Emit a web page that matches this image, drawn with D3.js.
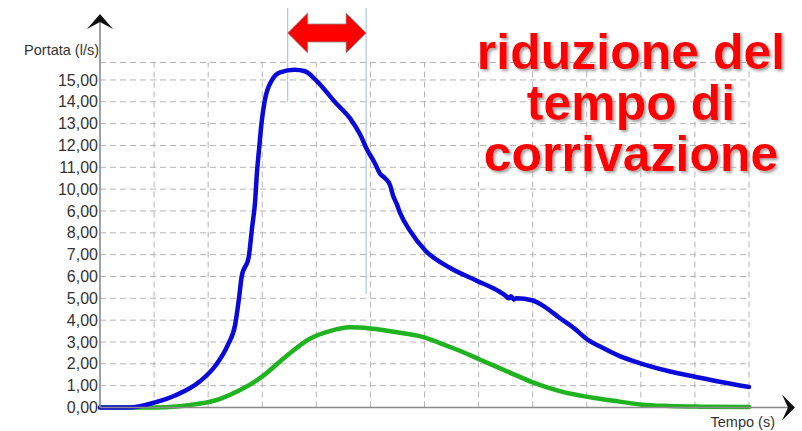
<!DOCTYPE html>
<html>
<head>
<meta charset="utf-8">
<script src="https://cdn.jsdelivr.net/npm/d3@7"></script>
<style>
  body { margin: 0; background: #fff; }
  svg { display: block; }
</style>
</head>
<body>
<div id="chart"></div>
<script>
// tempo in unita' di griglia, portata in l/s
const bluT = [0, 0.55, 1.00, 1.39, 1.85, 2.13, 2.37, 2.50, 2.57, 2.62, 2.75, 2.81, 2.87, 2.90, 2.94, 2.99, 3.05, 3.18, 3.33, 3.60, 3.79, 4.01, 4.34, 4.62, 4.81, 4.94, 5.08, 5.18, 5.27, 5.36, 5.42, 5.49, 5.55, 5.73, 6.01, 6.47, 6.97, 7.39, 7.50, 7.55, 7.60, 7.65, 7.70, 8.00, 8.23, 8.50, 8.78, 9.02, 9.24, 9.61, 10.02, 10.54, 11.02, 11.46, 12.00];
const bluQ = [0, 0, 0.22, 0.55, 1.2, 1.9, 2.9, 3.8, 5.0, 6.0, 6.9, 8.2, 9.5, 10.7, 11.8, 13.1, 14.1, 15.0, 15.35, 15.47, 15.4, 14.95, 14.0, 13.25, 12.5, 11.8, 11.2, 10.7, 10.5, 10.2, 9.7, 9.3, 8.9, 8.1, 7.2, 6.4, 5.8, 5.3, 5.12, 5.0, 5.1, 4.95, 5.0, 4.9, 4.6, 4.1, 3.6, 3.1, 2.8, 2.35, 2.0, 1.65, 1.4, 1.18, 0.94];

const verdeT = [0, 1.00, 1.85, 2.22, 2.59, 2.99, 3.42, 3.88, 4.25, 4.62, 4.99, 5.55, 6.01, 6.23, 6.65, 7.02, 7.58, 8.00, 8.50, 9.24, 9.61, 10.02, 10.54, 11.09, 12.00];
const verdeQ = [0, 0, 0.18, 0.4, 0.8, 1.4, 2.3, 3.15, 3.5, 3.67, 3.62, 3.42, 3.2, 3.0, 2.6, 2.2, 1.6, 1.15, 0.75, 0.4, 0.27, 0.13, 0.07, 0.04, 0.02];

const yTicks = [0, 1, 2, 3, 4, 5, 6, 7, 8, 9, 10, 11, 12, 13, 14, 15];
const yLabels = ["0,00", "1,00", "2,00", "3,00", "4,00", "5,00", "6,00", "7,00", "8,00", "6,00", "10,00", "11,00", "12,00", "13,00", "14,00", "15,00"];
const xGrid = [1, 2, 3, 4, 5, 6, 7, 8, 9, 10, 11, 12];
const yMax = 15.8;
const riduzione = [3.47, 4.92]; // inizio e fine della freccia
const titolo = ["riduzione del", "tempo di", "corrivazione"];

const W = 802, H = 431;
const svg = d3.select("#chart").append("svg").attr("width", W).attr("height", H);

const x = d3.scaleLinear().domain([0, 12]).range([100, 749]);
const y = d3.scaleLinear().domain([0, yMax]).range([407.5, 62.5]);

const defs = svg.append("defs");
defs.append("filter").attr("id", "ombra")
  .attr("x", "-10%").attr("y", "-20%").attr("width", "130%").attr("height", "150%")
  .append("feDropShadow")
  .attr("dx", 2).attr("dy", 2).attr("stdDeviation", 1.5)
  .attr("flood-color", "#888").attr("flood-opacity", 0.8);

// griglia
const grid = svg.append("g").attr("stroke", "#b4b4b4").attr("stroke-width", 1)
  .attr("stroke-dasharray", "6,4");
grid.selectAll(".h").data(yTicks.slice(1).concat([yMax])).enter().append("line")
  .attr("x1", x(0)).attr("x2", x(12))
  .attr("y1", d => y(d)).attr("y2", d => y(d));
grid.selectAll(".v").data(xGrid).enter().append("line")
  .attr("x1", d => x(d)).attr("x2", d => x(d))
  .attr("y1", y(0)).attr("y2", y(yMax));

// etichette asse y
svg.append("g")
  .attr("transform", `translate(${x(0)},0)`)
  .call(d3.axisLeft(y).tickValues(yTicks).tickSize(0).tickPadding(2)
    .tickFormat((d, i) => yLabels[i]))
  .call(g => g.select(".domain").remove())
  .call(g => g.selectAll("text")
    .attr("fill", "#333")
    .style("font-size", "16px")
    .style("font-family", "Liberation Sans, Arial, sans-serif"));

// linee guida della freccia
const guida = svg.append("g").attr("stroke", "#a9c8e8").attr("stroke-width", 1.2);
guida.append("line").attr("x1", x(riduzione[0])).attr("x2", x(riduzione[0]))
  .attr("y1", 8).attr("y2", y(14.0));
guida.append("line").attr("x1", x(riduzione[1])).attr("x2", x(riduzione[1]))
  .attr("y1", 8).attr("y2", y(5.2));

// curve
const linea = d3.line().x(d => x(d[0])).y(d => y(d[1])).curve(d3.curveMonotoneX);
svg.append("path")
  .datum(verdeT.map((t, i) => [t, verdeQ[i]]))
  .attr("fill", "none").attr("stroke", "#1fb31f").attr("stroke-width", 4.5)
  .attr("stroke-linejoin", "round").attr("stroke-linecap", "round")
  .attr("d", linea);
svg.append("path")
  .datum(bluT.map((t, i) => [t, bluQ[i]]))
  .attr("fill", "none").attr("stroke", "#0a0ad8").attr("stroke-width", 4.5)
  .attr("stroke-linejoin", "round").attr("stroke-linecap", "round")
  .attr("d", linea);

// assi
const asse = svg.append("g").attr("stroke", "#8a8a8a").attr("stroke-width", 1.6);
asse.append("line").attr("x1", x(0)).attr("x2", x(0)).attr("y1", y(0)).attr("y2", 20);
asse.append("line").attr("x1", x(0)).attr("x2", 788).attr("y1", y(0)).attr("y2", y(0));

svg.append("path")
  .attr("d", `M${x(0)},14 L${x(0) + 13},29 L${x(0)},22 L${x(0) - 13},29 Z`)
  .attr("fill", "#111");
const y0 = y(0);
svg.append("path")
  .attr("d", `M795,${y0} L782,${y0 - 13} L788,${y0} L782,${y0 + 13} Z`)
  .attr("fill", "#111");

svg.append("text")
  .attr("x", x(0) - 1).attr("y", 55)
  .attr("text-anchor", "end")
  .attr("fill", "#333")
  .style("font-size", "14.5px")
  .style("font-family", "Liberation Sans, Arial, sans-serif")
  .text("Portata (l/s)");

svg.append("text")
  .attr("x", 775).attr("y", 427)
  .attr("text-anchor", "end")
  .attr("fill", "#333")
  .style("font-size", "14.5px")
  .style("font-family", "Liberation Sans, Arial, sans-serif")
  .text("Tempo (s)");

// freccia doppia
const xa = x(riduzione[0]), xb = x(riduzione[1]);
const head = 20, ym = 33, hs = 9, hh = 20;
svg.append("path")
  .attr("d", `M${xa},${ym} L${xa + head},${ym - hh} L${xa + head},${ym - hs} L${xb - head},${ym - hs}
    L${xb - head},${ym - hh} L${xb},${ym} L${xb - head},${ym + hh} L${xb - head},${ym + hs}
    L${xa + head},${ym + hs} L${xa + head},${ym + hh} Z`)
  .attr("fill", "#ff0000").attr("stroke", "#8a8a8a").attr("stroke-width", 0.8);

// scritta
svg.append("g").attr("filter", "url(#ombra)")
  .selectAll("text").data(titolo).enter().append("text")
  .attr("x", 631).attr("y", (d, i) => 69 + i * 51)
  .attr("text-anchor", "middle")
  .attr("fill", "#ff0000")
  .style("font-size", "50px")
  .style("font-weight", "bold")
  .style("font-family", "Liberation Sans, Arial, sans-serif")
  .text(d => d);
</script>
</body>
</html>
